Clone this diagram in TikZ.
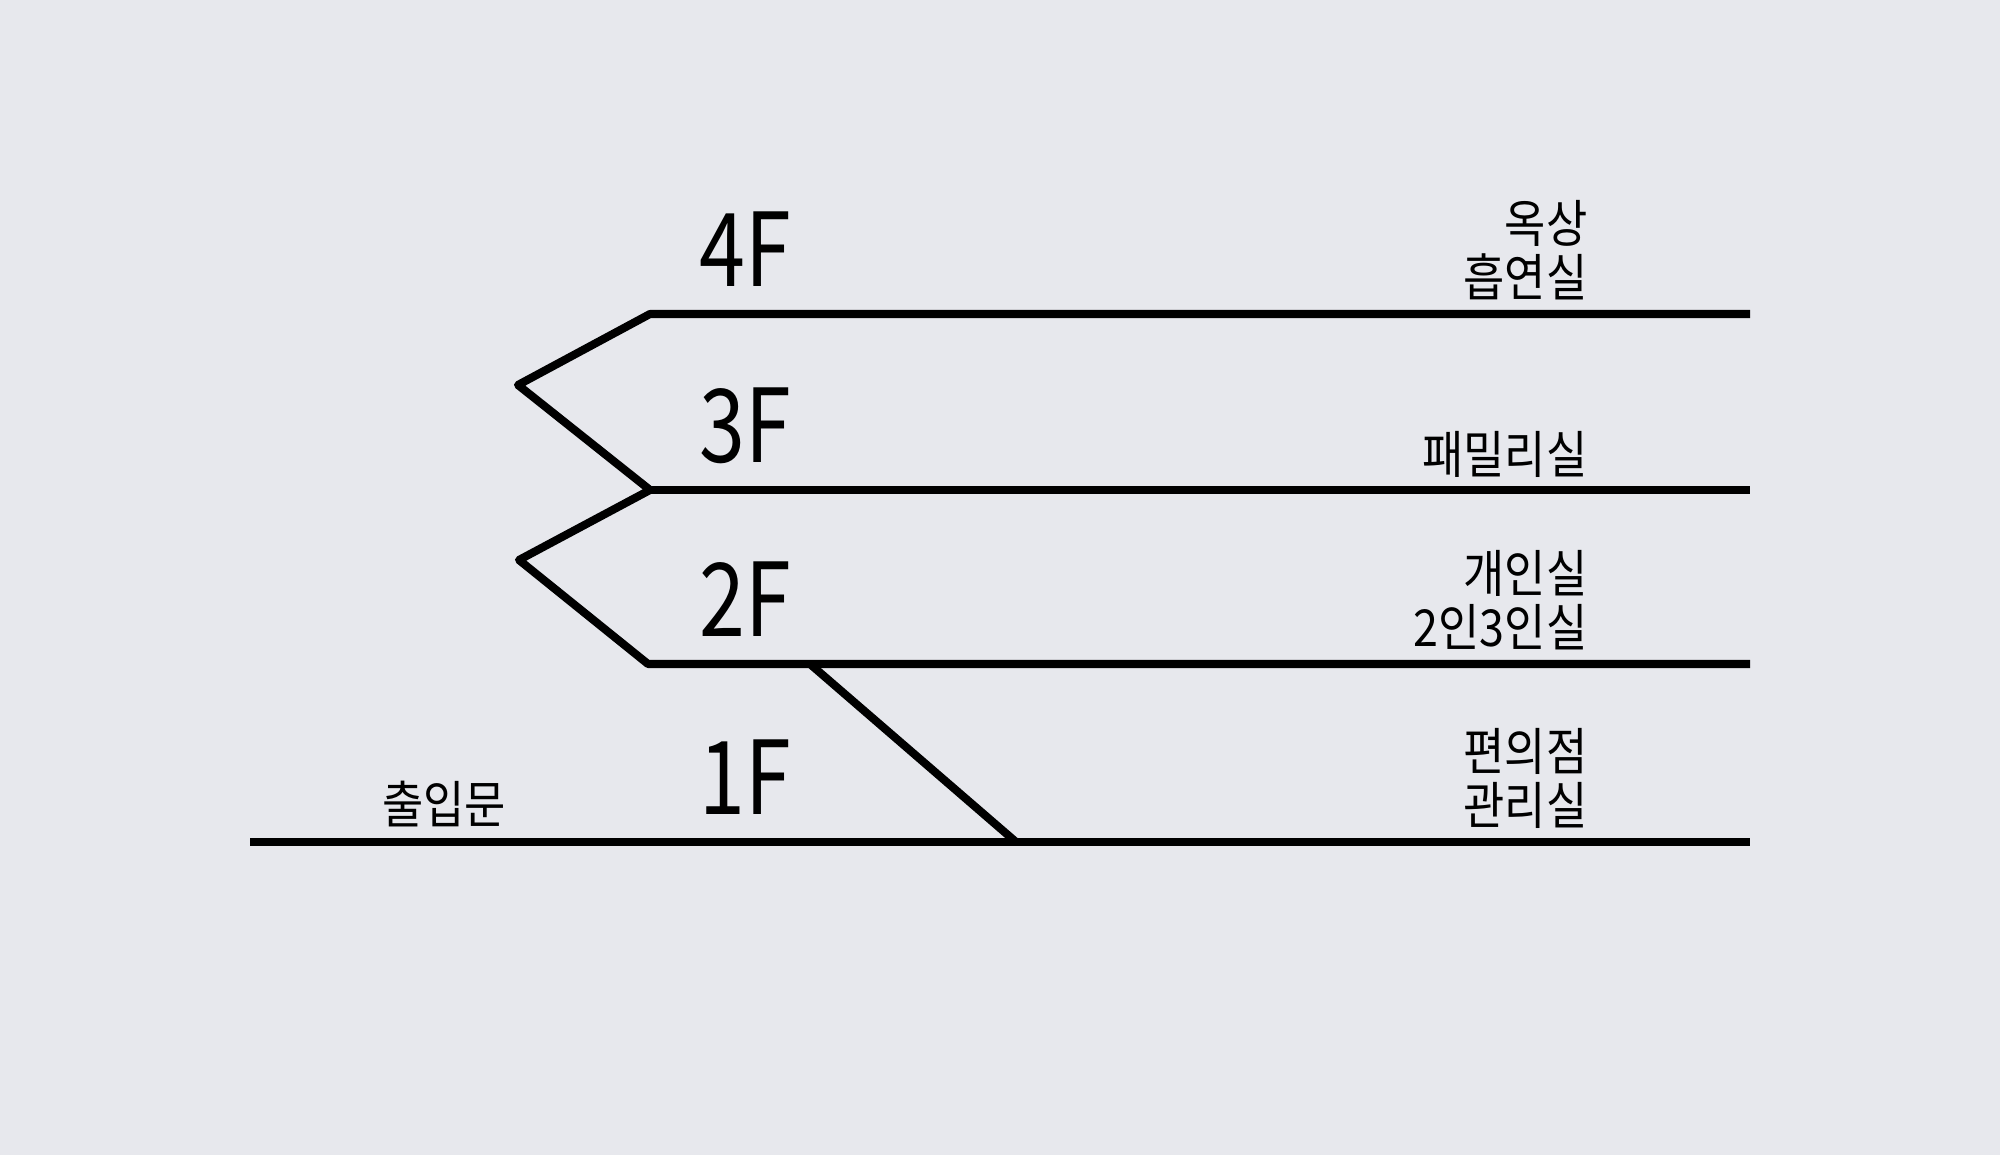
\documentclass[tikz,border=0pt]{standalone}
\usepackage{fontspec}
\setmainfont{Noto Sans CJK KR}[FakeStretch=0.88]
\newfontfamily\floorfont{Noto Sans CJK KR}[FakeStretch=0.81]
\usetikzlibrary{positioning,calc}
\definecolor{planbg}{HTML}{E7E8ED}
\definecolor{planink}{HTML}{000000}

\begin{document}
\begin{tikzpicture}[
    floorline/.style={draw=planink, line width=2.3pt, line join=round},
    floorlabel/.style={anchor=base, inner sep=0pt,
        font=\floorfont\fontsize{29}{32}\selectfont},
    roomlabel/.style={anchor=base east, inner sep=0pt, align=right,
        font=\fontsize{14.5}{15.6}\selectfont},
]

% =====================================================
% Canvas
% =====================================================
\fill[planbg] (0, 0) rectangle (20, 11.55);
\useasboundingbox (0, 0) rectangle (20, 11.55);

% =====================================================
% Floor lines and ramps
% =====================================================
\coordinate (f4start) at (6.50, 8.41);
\coordinate (f4end)   at (17.50, 8.41);
\coordinate (f3start) at (6.50, 6.65);
\coordinate (f3end)   at (17.50, 6.65);
\coordinate (f2start) at (6.48, 4.91);
\coordinate (f2end)   at (17.50, 4.91);
\coordinate (f1start) at (2.50, 3.13);
\coordinate (f1end)   at (17.50, 3.13);
\coordinate (turn43)  at (5.18, 7.70);
\coordinate (turn32)  at (5.19, 5.95);
\coordinate (stairtop) at (8.10, 4.91);
\coordinate (stairbot) at (10.16, 3.13);

\draw[floorline] (f4end) -- (f4start) -- (turn43) -- (f3start)
    -- (turn32) -- (f2start) -- (f2end);
\draw[floorline] (f3start) -- (f3end);
\draw[floorline] (f1start) -- (f1end);
\draw[floorline] (stairtop) -- (stairbot);

% =====================================================
% Floor numbers
% =====================================================
\node[floorlabel] (fl4) at (7.45, 8.68) {4F};
\node[floorlabel] (fl3) at (7.45, 6.92) {3F};
\node[floorlabel] (fl2) at (7.45, 5.18) {2F};
\node[floorlabel] (fl1) at (7.45, 3.40) {1F};

% =====================================================
% Rooms (right side), anchored on the last line
% =====================================================
\node[roomlabel] (rooftop) at (15.88, 8.58) {옥상\\흡연실};
\node[roomlabel] (family) at (15.88, 6.81) {패밀리실};
\node[roomlabel] (private) at (15.88, 5.08) {개인실\\2인3인실};
\node[roomlabel] (store) at (15.88, 3.30) {편의점\\관리실};

% --- entrance ---
\node[roomlabel, anchor=base] (entrance) at (4.44, 3.31) {출입문};

\end{tikzpicture}
\end{document}
